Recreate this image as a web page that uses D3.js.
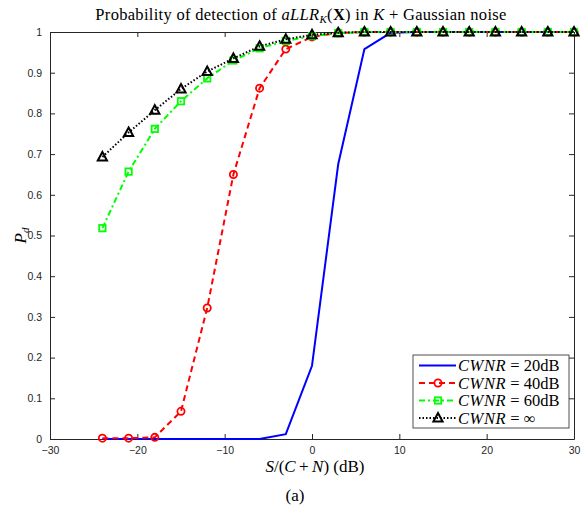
<!DOCTYPE html>
<html>
<head>
<meta charset="utf-8">
<script src="https://cdn.jsdelivr.net/npm/d3@7"></script>
<style>
  body { margin: 0; background: #fff; }
  svg text { font-family: "Liberation Sans", Arial, sans-serif; }
  .serif { font-family: "Liberation Serif", "Times New Roman", serif !important; }
</style>
</head>
<body>
<svg id="chart" width="587" height="511"></svg>
<script>
// data
const snr = [-24, -21, -18, -15, -12, -9, -6, -3, 0, 3, 6, 9, 12, 15, 18, 21, 24, 27, 30];
const pd20 = [0, 0, 0, 0, 0, 0, 0, 0.012, 0.18, 0.675, 0.958, 0.998, 1, 1, 1, 1, 1, 1, 1];
const pd40 = [0.002, 0.002, 0.004, 0.068, 0.322, 0.65, 0.862, 0.958, 0.988, 0.998, 1, 1, 1, 1, 1, 1, 1, 1, 1];
const pd60 = [0.518, 0.657, 0.762, 0.83, 0.886, 0.93, 0.96, 0.978, 0.99, 0.997, 1, 1, 1, 1, 1, 1, 1, 1, 1];
const pdInf = [0.693, 0.753, 0.808, 0.86, 0.903, 0.935, 0.965, 0.982, 0.993, 0.998, 1, 1, 1, 1, 1, 1, 1, 1, 1];
const xTicks = [-30, -20, -10, 0, 10, 20, 30];
const yTicks = [0, 0.1, 0.2, 0.3, 0.4, 0.5, 0.6, 0.7, 0.8, 0.9, 1];

const series = [
  { name: "20dB", values: pd20, color: "#0000ff", dash: null, marker: null },
  { name: "40dB", values: pd40, color: "#ff0000", dash: "6,4", marker: "circle" },
  { name: "60dB", values: pd60, color: "#00ff00", dash: "6,3,2,3", marker: "square" },
  { name: "inf", values: pdInf, color: "#000000", dash: "1.5,2", marker: "triangle" },
];

const svg = d3.select("#chart");
const mLeft = 50, mRight = 574, mTop = 32, mBottom = 439;

const x = d3.scaleLinear().domain([-30, 30]).range([mLeft, mRight]);
const y = d3.scaleLinear().domain([0, 1]).range([mBottom, mTop]);

// axes box
const ax = svg.append("g");
ax.append("g")
  .attr("transform", `translate(0,${mBottom})`)
  .call(d3.axisBottom(x).tickValues(xTicks).tickSizeInner(-5).tickSizeOuter(0).tickPadding(8))
  .call(g => g.select(".domain").attr("stroke", "#262626"))
  .call(g => g.selectAll("line").attr("stroke", "#262626"))
  .call(g => g.selectAll("text").attr("font-size", 10.5).attr("fill", "#262626"));
ax.append("g")
  .attr("transform", `translate(${mLeft},0)`)
  .call(d3.axisLeft(y).tickValues(yTicks).tickFormat(d3.format("~g")).tickSizeInner(-5).tickSizeOuter(0).tickPadding(8))
  .call(g => g.select(".domain").attr("stroke", "#262626"))
  .call(g => g.selectAll("line").attr("stroke", "#262626"))
  .call(g => g.selectAll("text").attr("font-size", 10.5).attr("fill", "#262626"));
ax.append("g")
  .attr("transform", `translate(0,${mTop})`)
  .call(d3.axisTop(x).tickValues(xTicks).tickSizeInner(-5).tickSizeOuter(0).tickFormat(""))
  .call(g => g.selectAll("path,line").attr("stroke", "#262626"));
ax.append("g")
  .attr("transform", `translate(${mRight},0)`)
  .call(d3.axisRight(y).tickValues(yTicks).tickSizeInner(-5).tickSizeOuter(0).tickFormat(""))
  .call(g => g.selectAll("path,line").attr("stroke", "#262626"));

const line = d3.line().x((d, i) => x(snr[i])).y(d => y(d));

function drawMarker(g, type, color, cx, cy) {
  if (type === "circle") {
    g.append("circle").attr("cx", cx).attr("cy", cy).attr("r", 3.6)
      .attr("fill", "none").attr("stroke", color).attr("stroke-width", 1.8);
  } else if (type === "square") {
    g.append("rect").attr("x", cx - 3.2).attr("y", cy - 3.2).attr("width", 6.4).attr("height", 6.4)
      .attr("fill", "none").attr("stroke", color).attr("stroke-width", 1.8);
  } else if (type === "triangle") {
    g.append("path")
      .attr("d", `M${cx},${cy - 5}L${cx + 4.6},${cy + 3.5}L${cx - 4.6},${cy + 3.5}Z`)
      .attr("fill", "none").attr("stroke", color).attr("stroke-width", 2);
  }
}

const plot = svg.append("g");
series.forEach(s => {
  plot.append("path")
    .datum(s.values)
    .attr("d", line)
    .attr("fill", "none")
    .attr("stroke", s.color)
    .attr("stroke-width", 2)
    .attr("stroke-dasharray", s.dash);
  if (s.marker) {
    const mg = plot.append("g");
    s.values.forEach((v, i) => drawMarker(mg, s.marker, s.color, x(snr[i]), y(v)));
  }
});

// title
svg.append("text").attr("class", "serif")
  .attr("x", 301).attr("y", 20)
  .attr("text-anchor", "middle").attr("font-size", 16.5)
  .attr("letter-spacing", 0.3)
  .html('Probability of detection of <tspan font-style="italic">aLLR</tspan><tspan font-style="italic" font-size="11" dy="3">K</tspan><tspan dy="-3">(</tspan><tspan font-weight="bold">X</tspan>) in <tspan font-style="italic">K</tspan> + Gaussian noise');

// axis labels
svg.append("text").attr("class", "serif")
  .attr("x", 315).attr("y", 472)
  .attr("text-anchor", "middle").attr("font-size", 17)
  .attr("xml:space", "preserve")
  .html('<tspan font-style="italic">S</tspan>/(<tspan font-style="italic">C</tspan>\u2009+\u2009<tspan font-style="italic">N</tspan>) (dB)');
svg.append("text").attr("class", "serif")
  .attr("transform", `translate(26,${(mTop + mBottom) / 2}) rotate(-90)`)
  .attr("text-anchor", "middle").attr("font-size", 17)
  .html('<tspan font-style="italic">P</tspan><tspan font-style="italic" font-size="11" dy="3">d</tspan>');

svg.append("text").attr("class", "serif")
  .attr("x", 295).attr("y", 501)
  .attr("text-anchor", "middle").attr("font-size", 17)
  .text("(a)");

// legend
const lg = svg.append("g").attr("transform", "translate(413,355)");
lg.append("rect").attr("width", 156).attr("height", 73)
  .attr("fill", "#fff").attr("stroke", "#262626").attr("stroke-width", 0.8);
const labels = ["= 20dB", "= 40dB", "= 60dB", "= \u221E"];
series.forEach((s, i) => {
  const ly = 10.5 + i * 17.5;
  lg.append("line").attr("x1", 6).attr("x2", 43).attr("y1", ly).attr("y2", ly)
    .attr("stroke", s.color).attr("stroke-width", 2).attr("stroke-dasharray", s.dash);
  if (s.marker) drawMarker(lg, s.marker, s.color, 25, ly);
  const t = lg.append("text").attr("class", "serif")
    .attr("x", 45).attr("y", ly + 5.5).attr("font-size", 16.5);
  t.append("tspan").attr("font-style", "italic").attr("letter-spacing", 0.6).text("CWNR");
  t.append("tspan").text(" " + labels[i]);
});
</script>
</body>
</html>
